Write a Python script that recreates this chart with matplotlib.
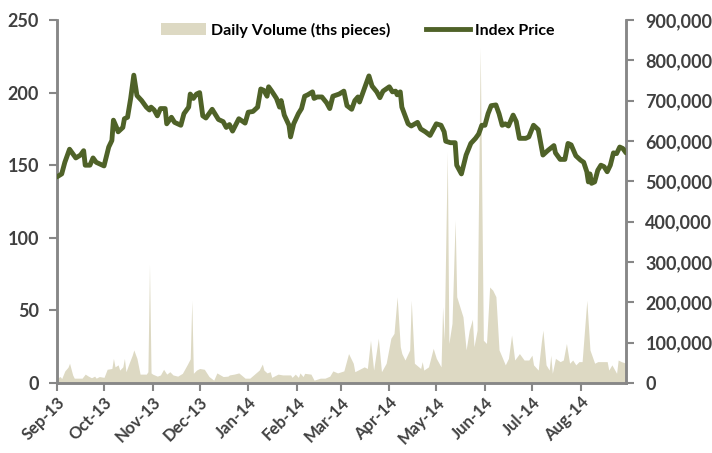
import matplotlib
matplotlib.use("Agg")
import matplotlib.pyplot as plt
import matplotlib.dates as mdates
from matplotlib.patches import Patch
from matplotlib.lines import Line2D
from matplotlib.ticker import FuncFormatter
import pandas as pd

plt.rcParams['font.family'] = ['Lato', 'DejaVu Sans']

# ---------------- data ----------------
price_dates = [
    "2013-09-01", "2013-09-04", "2013-09-06", "2013-09-09", "2013-09-11", "2013-09-13", "2013-09-16",
    "2013-09-18", "2013-09-19", "2013-09-22", "2013-09-24", "2013-09-26", "2013-10-01", "2013-10-04",
    "2013-10-06", "2013-10-07", "2013-10-09", "2013-10-10", "2013-10-13", "2013-10-14", "2013-10-16",
    "2013-10-18", "2013-10-20", "2013-10-22", "2013-10-25", "2013-10-28", "2013-10-30", "2013-10-31",
    "2013-11-02", "2013-11-04", "2013-11-06", "2013-11-09", "2013-11-10", "2013-11-13", "2013-11-15",
    "2013-11-19", "2013-11-21", "2013-11-24", "2013-11-25", "2013-11-27", "2013-11-29", "2013-12-01",
    "2013-12-03", "2013-12-05", "2013-12-09", "2013-12-13", "2013-12-16", "2013-12-18", "2013-12-20",
    "2013-12-22", "2013-12-26", "2013-12-30", "2014-01-01", "2014-01-04", "2014-01-07", "2014-01-09",
    "2014-01-11", "2014-01-13", "2014-01-14", "2014-01-16", "2014-01-19", "2014-01-21", "2014-01-22",
    "2014-01-24", "2014-01-27", "2014-01-28", "2014-01-30", "2014-02-02", "2014-02-04", "2014-02-06",
    "2014-02-08", "2014-02-11", "2014-02-12", "2014-02-14", "2014-02-17", "2014-02-20", "2014-02-22",
    "2014-02-24", "2014-02-28", "2014-03-03", "2014-03-05", "2014-03-08", "2014-03-10", "2014-03-12",
    "2014-03-13", "2014-03-16", "2014-03-19", "2014-03-21", "2014-03-24", "2014-03-26", "2014-03-28",
    "2014-04-01", "2014-04-03", "2014-04-05", "2014-04-06", "2014-04-08", "2014-04-09", "2014-04-13",
    "2014-04-15", "2014-04-19", "2014-04-21", "2014-04-24", "2014-04-27", "2014-05-01", "2014-05-04",
    "2014-05-06", "2014-05-07", "2014-05-10", "2014-05-13", "2014-05-14", "2014-05-17", "2014-05-20",
    "2014-05-23", "2014-05-26", "2014-05-28", "2014-05-30", "2014-06-01", "2014-06-03", "2014-06-05",
    "2014-06-08", "2014-06-10", "2014-06-12", "2014-06-14", "2014-06-16", "2014-06-19", "2014-06-21",
    "2014-06-23", "2014-06-27", "2014-06-29", "2014-07-02", "2014-07-05", "2014-07-08", "2014-07-11",
    "2014-07-15", "2014-07-16", "2014-07-19", "2014-07-22", "2014-07-24", "2014-07-26", "2014-07-29",
    "2014-08-01", "2014-08-03", "2014-08-05", "2014-08-06", "2014-08-07", "2014-08-08", "2014-08-10",
    "2014-08-12", "2014-08-14", "2014-08-16", "2014-08-18", "2014-08-20", "2014-08-22", "2014-08-24",
    "2014-08-26", "2014-08-28", "2014-08-30",
]
price_values = [
    142, 144, 152, 161, 158, 155, 157,
    160, 150, 150, 155, 152, 149.5, 162.5,
    167, 181, 176, 173, 176, 182, 183,
    196, 212, 198, 194.5, 190, 188, 190,
    188, 184, 189, 189, 178.5, 183, 179.5,
    177.5, 185.5, 190, 199, 196, 199, 200,
    184, 182.5, 188.5, 181.5, 180, 176, 178,
    173.5, 182, 179, 186.5, 187, 190, 202.5,
    201.5, 197.5, 204, 201, 196, 190, 194.5,
    184.5, 177.5, 169.5, 178.5, 185.5, 189, 197.5,
    198.5, 200.5, 196, 197, 197, 193, 189,
    197.5, 199, 201, 191, 188.5, 194.5, 197,
    193.5, 202.5, 211.5, 204.5, 200.5, 196.5, 201,
    204, 200.5, 201, 198.5, 200.5, 190, 178.5,
    177, 179.5, 175, 173, 170.5, 178.5, 177.5,
    173, 166.5, 165.5, 165.5, 150, 144, 157,
    165, 168.5, 171.5, 177.5, 177.5, 185.5, 191,
    191.5, 185.5, 177.5, 178.5, 177, 184.5, 180,
    168.5, 168.5, 169.5, 177.5, 174.5, 157, 160,
    163.5, 158.5, 154, 154, 165, 164, 156.5,
    153.5, 152, 145.5, 138.5, 144, 137.5, 138.5,
    146.5, 150, 149, 145.5, 150, 158.5, 158,
    162.5, 161.5, 158.5,
]

volume_dates = [
    "2013-09-01", "2013-09-03", "2013-09-04", "2013-09-06", "2013-09-08", "2013-09-09", "2013-09-11",
    "2013-09-12", "2013-09-17", "2013-09-19", "2013-09-21", "2013-09-23", "2013-09-25", "2013-09-26",
    "2013-09-28", "2013-10-01", "2013-10-03", "2013-10-06", "2013-10-07", "2013-10-08", "2013-10-10",
    "2013-10-11", "2013-10-13", "2013-10-14", "2013-10-15", "2013-10-17", "2013-10-19", "2013-10-20",
    "2013-10-22", "2013-10-24", "2013-10-28", "2013-10-29", "2013-10-30", "2013-10-31", "2013-11-01",
    "2013-11-04", "2013-11-06", "2013-11-08", "2013-11-10", "2013-11-12", "2013-11-14", "2013-11-17",
    "2013-11-20", "2013-11-23", "2013-11-25", "2013-11-26", "2013-11-27", "2013-11-29", "2013-12-01",
    "2013-12-04", "2013-12-05", "2013-12-07", "2013-12-10", "2013-12-12", "2013-12-16", "2013-12-19",
    "2013-12-20", "2013-12-23", "2013-12-26", "2013-12-30", "2014-01-02", "2014-01-05", "2014-01-08",
    "2014-01-10", "2014-01-11", "2014-01-13", "2014-01-15", "2014-01-16", "2014-01-20", "2014-01-23",
    "2014-01-28", "2014-01-29", "2014-01-31", "2014-02-02", "2014-02-03", "2014-02-05", "2014-02-06",
    "2014-02-10", "2014-02-12", "2014-02-16", "2014-02-19", "2014-02-22", "2014-02-24", "2014-02-27",
    "2014-03-03", "2014-03-06", "2014-03-09", "2014-03-10", "2014-03-13", "2014-03-16", "2014-03-18",
    "2014-03-20", "2014-03-22", "2014-03-25", "2014-03-27", "2014-03-30", "2014-04-02", "2014-04-04",
    "2014-04-06", "2014-04-08", "2014-04-09", "2014-04-11", "2014-04-14", "2014-04-15", "2014-04-17",
    "2014-04-21", "2014-04-22", "2014-04-23", "2014-04-26", "2014-04-29", "2014-05-01", "2014-05-04",
    "2014-05-05", "2014-05-06", "2014-05-08", "2014-05-09", "2014-05-11", "2014-05-13", "2014-05-14",
    "2014-05-18", "2014-05-20", "2014-05-22", "2014-05-24", "2014-05-25", "2014-05-27", "2014-05-29",
    "2014-05-31", "2014-06-02", "2014-06-04", "2014-06-06", "2014-06-08", "2014-06-10", "2014-06-11",
    "2014-06-14", "2014-06-16", "2014-06-18", "2014-06-20", "2014-06-23", "2014-06-26", "2014-06-29",
    "2014-07-01", "2014-07-02", "2014-07-05", "2014-07-07", "2014-07-08", "2014-07-10", "2014-07-12",
    "2014-07-13", "2014-07-14", "2014-07-16", "2014-07-19", "2014-07-21", "2014-07-23", "2014-07-25",
    "2014-07-27", "2014-07-29", "2014-07-31", "2014-08-02", "2014-08-05", "2014-08-07", "2014-08-10",
    "2014-08-12", "2014-08-15", "2014-08-18", "2014-08-19", "2014-08-21", "2014-08-24", "2014-08-25",
    "2014-08-27", "2014-08-30",
]
volume_ths = [
    12000, 16000, 11000, 30000, 39000, 49000, 20000,
    12000, 12000, 22000, 17000, 13000, 17000, 12000,
    16000, 14000, 34000, 36000, 61000, 40000, 45000,
    32000, 40000, 61000, 28000, 49000, 69000, 82000,
    61000, 22000, 22000, 28000, 295000, 25000, 22000,
    17000, 20000, 34000, 22000, 28000, 20000, 17000,
    24000, 45000, 60000, 205000, 24000, 32000, 36000,
    34000, 28000, 16000, 7000, 25000, 16000, 17000,
    20000, 22000, 25000, 12000, 12000, 22000, 32000,
    47000, 32000, 25000, 28000, 14000, 22000, 20000,
    20000, 14000, 22000, 14000, 25000, 16000, 24000,
    22000, 7000, 12000, 12000, 17000, 30000, 25000,
    30000, 73000, 49000, 28000, 34000, 40000, 36000,
    106000, 32000, 111000, 28000, 49000, 111000, 123000,
    214000, 90000, 73000, 57000, 82000, 205000, 49000,
    36000, 53000, 32000, 40000, 86000, 61000, 40000,
    189000, 106000, 575000, 98000, 148000, 404000, 214000,
    164000, 82000, 131000, 158000, 90000, 131000, 832000,
    106000, 98000, 238000, 230000, 214000, 82000, 73000,
    45000, 61000, 119000, 57000, 73000, 57000, 57000,
    69000, 45000, 32000, 102000, 131000, 45000, 32000,
    69000, 24000, 61000, 53000, 57000, 98000, 49000,
    57000, 45000, 53000, 53000, 205000, 82000, 49000,
    53000, 53000, 53000, 32000, 45000, 24000, 57000,
    53000, 49000,
]

x_start, x_end = "2013-09-01", "2014-08-30"
price_ticks = [0, 50, 100, 150, 200, 250]
volume_ticks = [0, 100000, 200000, 300000, 400000, 500000, 600000, 700000, 800000, 900000]
legend_labels = ["Daily Volume (ths pieces)", "Index Price"]

# ---------------- style ----------------
area_color = "#DDD9C3"
line_color = "#4F6228"
spine_color = "#878787"
text_color = "#404040"

pd_price = pd.to_datetime(price_dates)
pd_vol = pd.to_datetime(volume_dates)

fig = plt.figure(figsize=(7.12, 4.53), dpi=100)
ax_v = fig.add_axes([57 / 712, 1 - 383 / 453, (626 - 57) / 712, (383 - 20) / 453])
ax_p = ax_v.twinx()

# volume area (right axis)
ax_v.fill_between(pd_vol, 0, volume_ths, color=area_color, linewidth=0, zorder=1)
ax_v.set_ylim(0, 900000)
ax_v.set_yticks(volume_ticks)
ax_v.yaxis.set_major_formatter(FuncFormatter(lambda v, p: f"{int(v):,}"))
ax_v.yaxis.tick_right()
ax_v.yaxis.set_label_position("right")

# price line (left axis)
ax_p.plot(pd_price, price_values, color=line_color, linewidth=3.5, solid_joinstyle="round",
          solid_capstyle="round", zorder=3)
ax_p.set_ylim(0, 250)
ax_p.set_yticks(price_ticks)
ax_p.yaxis.tick_left()
ax_p.yaxis.set_label_position("left")

ax_v.set_xlim(pd.Timestamp(x_start), pd.Timestamp(x_end))
ax_v.xaxis.set_major_locator(mdates.MonthLocator())
ax_v.xaxis.set_major_formatter(mdates.DateFormatter("%b-%y"))

for a in (ax_v, ax_p):
    a.spines["top"].set_visible(False)
    for s in ("left", "right", "bottom"):
        a.spines[s].set_color(spine_color)
        a.spines[s].set_linewidth(1.8)
    a.tick_params(colors=spine_color, width=1.5, length=6, labelcolor=text_color)
    a.set_facecolor("none")

ax_v.tick_params(axis="y", labelsize=13, pad=8)
ax_p.tick_params(axis="y", labelsize=13, pad=7)
ax_v.tick_params(axis="x", labelsize=12, pad=2)
for lbl in ax_v.get_yticklabels() + ax_p.get_yticklabels() + ax_v.get_xticklabels():
    lbl.set_fontweight("bold")
for lbl in ax_v.get_xticklabels():
    lbl.set_rotation(45)
    lbl.set_ha("right")
    lbl.set_rotation_mode("anchor")

handles = [Patch(facecolor=area_color, edgecolor="none"),
           Line2D([0], [0], color=line_color, linewidth=3.5)]
leg = fig.legend(handles, legend_labels, loc="center", bbox_to_anchor=(358 / 712, 1 - 30 / 453),
                 ncol=2, frameon=False, handlelength=2.8, handletextpad=0.3, columnspacing=2.2,
                 prop={"weight": "bold", "size": 11.5}, labelcolor="black")

fig.savefig("out.png", dpi=100)
